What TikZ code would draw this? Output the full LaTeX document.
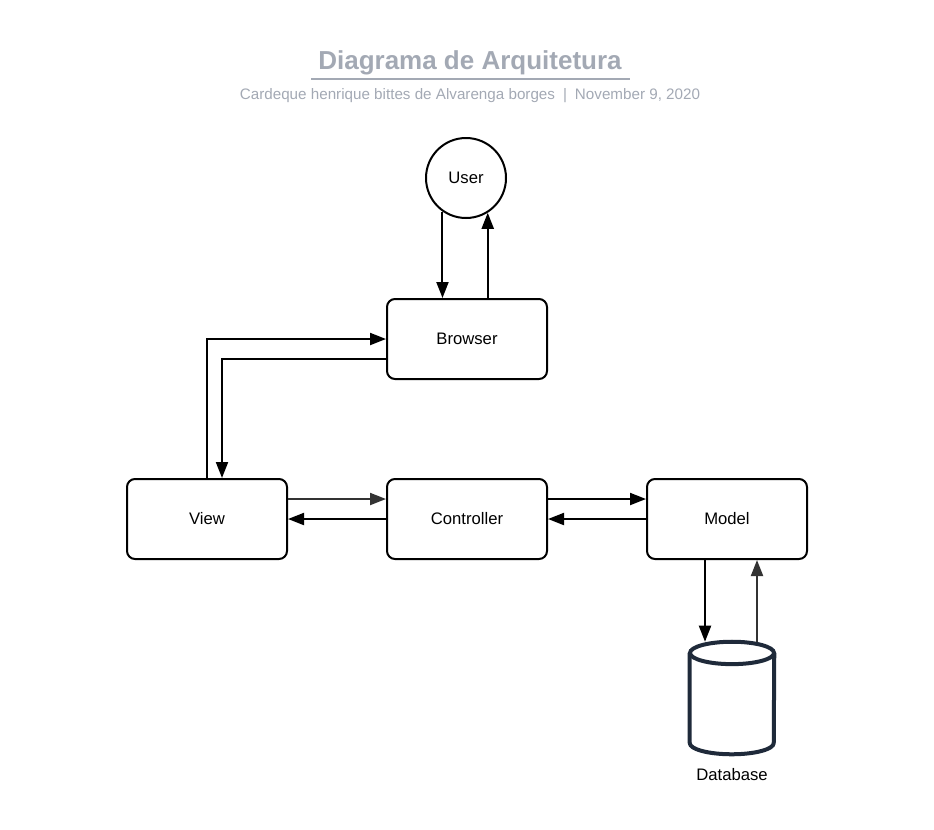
\documentclass[tikz,border=0pt]{standalone}
\usepackage{fontspec}
\setmainfont{Liberation Sans}
\usepackage{tikz}
\usetikzlibrary{arrows.meta}

\definecolor{titlegray}{HTML}{A3A9B4}
\definecolor{dbnavy}{HTML}{1F2A3A}
\definecolor{arrgray}{HTML}{333333}

\tikzset{
  box/.style={draw, line width=1.5pt, rounded corners=6pt, minimum width=120pt, minimum height=60pt, font=\fontsize{12.5}{15}\selectfont},
  arr/.style={line width=1.5pt, -{Triangle[length=12pt,width=9pt]}},
}

\begin{document}
\begin{tikzpicture}[x=0.75pt, y=-0.75pt]
  \useasboundingbox (0,0) rectangle (934,829);

  \node[text=titlegray, font=\fontsize{19.5}{23}\bfseries] (title) at (470,63) {Diagrama de Arquitetura};
  \draw[titlegray, line width=1.5pt] (311,79) -- (630,79);
  \node[text=titlegray, font=\fontsize{11.4}{14}\selectfont] (sub) at (470,96) {Cardeque henrique bittes de Alvarenga borges\hspace{6pt}|\hspace{6pt}November 9, 2020};

  \node[draw, circle, line width=1.5pt, minimum size=60pt, inner sep=0pt, font=\fontsize{12.5}{15}\selectfont] (user) at (466,178) {User};
  \node[box] (browser) at (467,339) {Browser};
  \node[box] (view) at (207,519) {View};
  \node[box] (controller) at (467,519) {Controller};
  \node[box] (model) at (727,519) {Model};

  % database cylinder
  \node[minimum width=63pt, minimum height=84pt, inner sep=0pt] (db) at (732,698) {};
  \draw[dbnavy, line width=3pt] ([yshift=-8.4pt]db.north) ellipse [x radius=31.5pt, y radius=8.4pt];
  \draw[dbnavy, line width=3pt, line join=round] ([yshift=-8.4pt]db.north west) -- ([yshift=8.4pt]db.south west)
    arc [start angle=180, end angle=360, x radius=31.5pt, y radius=8.4pt] -- ([yshift=-8.4pt]db.north east);
  \node[font=\fontsize{12.5}{15}\selectfont] (dblabel) at (732,775) {Database};

  \draw[arr] (user.235) -- (user.235 |- browser.north);
  \draw[arr] (user.302 |- browser.north) -- (user.302);

  \draw[arr] (view.north) |- (browser.west);
  \draw[arr] ([yshift=-15pt]browser.west) -| ([xshift=11.25pt]view.north);

  \draw[arr, arrgray] ([yshift=15pt]view.east) -- ([yshift=15pt]controller.west);
  \draw[arr] (controller.west) -- (view.east);
  \draw[arr] ([yshift=15pt]controller.east) -- ([yshift=15pt]model.west);
  \draw[arr] (model.west) -- (controller.east);

  \draw[arr] ([xshift=-16.5pt]model.south) -- ([xshift=-16.5pt]model.south |- db.north);
  \draw[arr, arrgray] ([xshift=22.5pt]model.south |- db.north) -- ([xshift=22.5pt]model.south);
\end{tikzpicture}
\end{document}
